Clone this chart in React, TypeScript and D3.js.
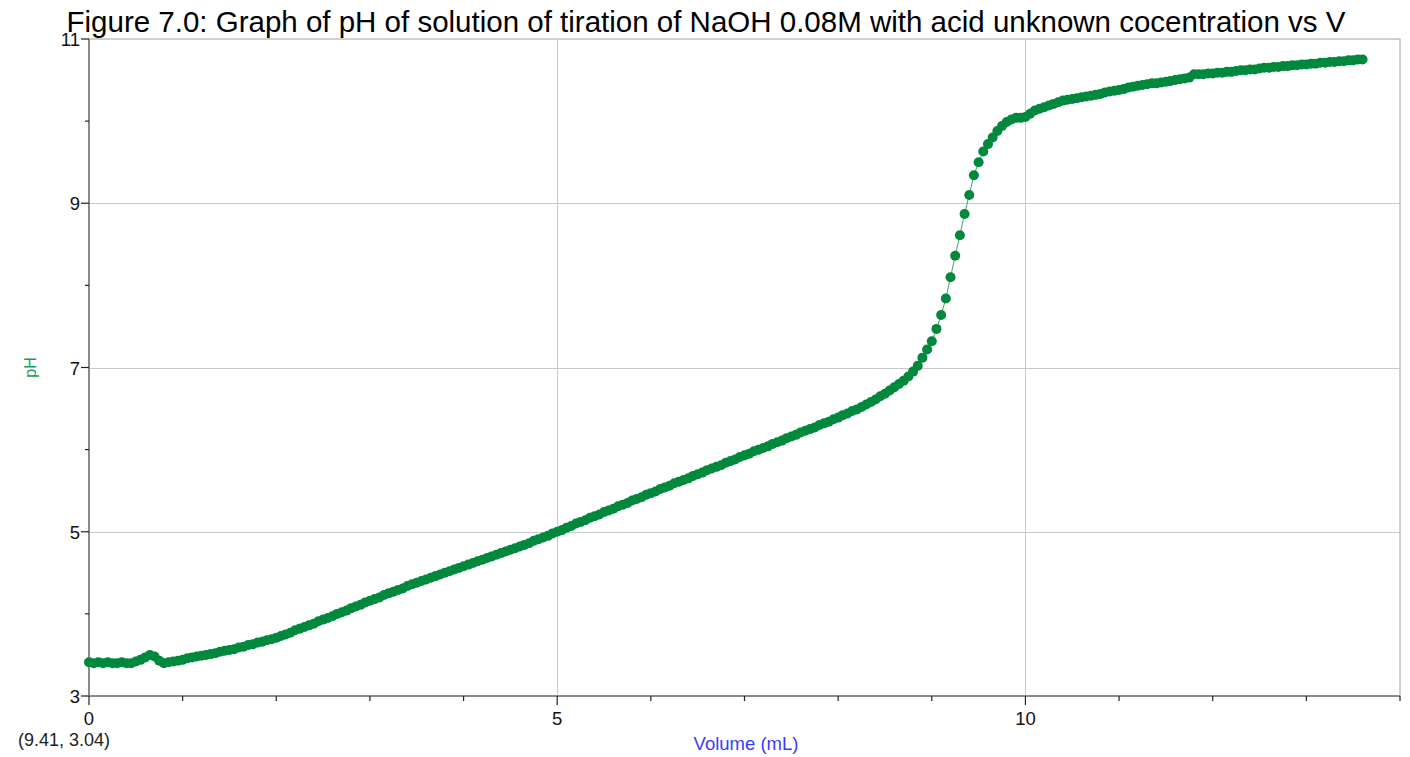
import React, { useEffect, useRef } from "react";
import * as d3 from "d3";

// Titration readings: volume of NaOH added (mL) and measured pH
const volume = [
  0.00, 0.05, 0.10, 0.15, 0.20, 0.25, 0.30, 0.35, 0.40, 0.45,
  0.50, 0.55, 0.60, 0.65, 0.70, 0.75, 0.80, 0.85, 0.90, 0.95,
  1.00, 1.05, 1.10, 1.15, 1.20, 1.25, 1.30, 1.35, 1.40, 1.45,
  1.50, 1.55, 1.60, 1.65, 1.70, 1.75, 1.80, 1.85, 1.90, 1.95,
  2.00, 2.05, 2.10, 2.15, 2.20, 2.25, 2.30, 2.35, 2.40, 2.45,
  2.50, 2.55, 2.60, 2.65, 2.70, 2.75, 2.80, 2.85, 2.90, 2.95,
  3.00, 3.05, 3.10, 3.15, 3.20, 3.25, 3.30, 3.35, 3.40, 3.45,
  3.50, 3.55, 3.60, 3.65, 3.70, 3.75, 3.80, 3.85, 3.90, 3.95,
  4.00, 4.05, 4.10, 4.15, 4.20, 4.25, 4.30, 4.35, 4.40, 4.45,
  4.50, 4.55, 4.60, 4.65, 4.70, 4.75, 4.80, 4.85, 4.90, 4.95,
  5.00, 5.05, 5.10, 5.15, 5.20, 5.25, 5.30, 5.35, 5.40, 5.45,
  5.50, 5.55, 5.60, 5.65, 5.70, 5.75, 5.80, 5.85, 5.90, 5.95,
  6.00, 6.05, 6.10, 6.15, 6.20, 6.25, 6.30, 6.35, 6.40, 6.45,
  6.50, 6.55, 6.60, 6.65, 6.70, 6.75, 6.80, 6.85, 6.90, 6.95,
  7.00, 7.05, 7.10, 7.15, 7.20, 7.25, 7.30, 7.35, 7.40, 7.45,
  7.50, 7.55, 7.60, 7.65, 7.70, 7.75, 7.80, 7.85, 7.90, 7.95,
  8.00, 8.05, 8.10, 8.15, 8.20, 8.25, 8.30, 8.35, 8.40, 8.45,
  8.50, 8.55, 8.60, 8.65, 8.70, 8.75, 8.80, 8.85, 8.90, 8.95,
  9.00, 9.05, 9.10, 9.15, 9.20, 9.25, 9.30, 9.35, 9.40, 9.45,
  9.50, 9.55, 9.60, 9.65, 9.70, 9.75, 9.80, 9.85, 9.90, 9.95,
  10.00, 10.05, 10.10, 10.15, 10.20, 10.25, 10.30, 10.35, 10.40, 10.45,
  10.50, 10.55, 10.60, 10.65, 10.70, 10.75, 10.80, 10.85, 10.90, 10.95,
  11.00, 11.05, 11.10, 11.15, 11.20, 11.25, 11.30, 11.35, 11.40, 11.45,
  11.50, 11.55, 11.60, 11.65, 11.70, 11.75, 11.80, 11.85, 11.90, 11.95,
  12.00, 12.05, 12.10, 12.15, 12.20, 12.25, 12.30, 12.35, 12.40, 12.45,
  12.50, 12.55, 12.60, 12.65, 12.70, 12.75, 12.80, 12.85, 12.90, 12.95,
  13.00, 13.05, 13.10, 13.15, 13.20, 13.25, 13.30, 13.35, 13.40, 13.45,
  13.50, 13.55, 13.60,
];

const pH = [
  3.41, 3.40, 3.41, 3.40, 3.41, 3.40, 3.40, 3.41, 3.40, 3.40,
  3.42, 3.44, 3.47, 3.50, 3.48, 3.43, 3.40, 3.41, 3.42, 3.43,
  3.44, 3.46, 3.47, 3.48, 3.49, 3.50, 3.51, 3.52, 3.54, 3.55,
  3.56, 3.57, 3.59, 3.60, 3.62, 3.63, 3.65, 3.66, 3.68, 3.69,
  3.71, 3.73, 3.75, 3.77, 3.80, 3.82, 3.84, 3.86, 3.88, 3.91,
  3.93, 3.95, 3.97, 4.00, 4.02, 4.04, 4.07, 4.09, 4.11, 4.14,
  4.16, 4.18, 4.20, 4.23, 4.25, 4.27, 4.29, 4.31, 4.34, 4.36,
  4.38, 4.40, 4.42, 4.44, 4.46, 4.48, 4.50, 4.52, 4.54, 4.56,
  4.58, 4.60, 4.62, 4.64, 4.66, 4.68, 4.70, 4.72, 4.74, 4.76,
  4.78, 4.80, 4.82, 4.84, 4.86, 4.89, 4.91, 4.93, 4.95, 4.98,
  5.00, 5.02, 5.05, 5.07, 5.10, 5.12, 5.14, 5.17, 5.19, 5.21,
  5.24, 5.26, 5.28, 5.31, 5.33, 5.35, 5.38, 5.40, 5.42, 5.45,
  5.47, 5.49, 5.52, 5.54, 5.56, 5.59, 5.61, 5.63, 5.65, 5.68,
  5.70, 5.72, 5.75, 5.77, 5.79, 5.81, 5.84, 5.86, 5.88, 5.91,
  5.93, 5.95, 5.98, 6.00, 6.02, 6.04, 6.07, 6.09, 6.11, 6.14,
  6.16, 6.18, 6.21, 6.23, 6.25, 6.27, 6.30, 6.32, 6.34, 6.37,
  6.39, 6.42, 6.44, 6.47, 6.49, 6.52, 6.55, 6.58, 6.61, 6.65,
  6.68, 6.72, 6.76, 6.80, 6.84, 6.89, 6.95, 7.02, 7.12, 7.22,
  7.32, 7.47, 7.64, 7.84, 8.10, 8.36, 8.61, 8.87, 9.10, 9.34,
  9.50, 9.63, 9.72, 9.80, 9.88, 9.94, 9.99, 10.02, 10.04, 10.04,
  10.05, 10.09, 10.13, 10.15, 10.17, 10.19, 10.21, 10.23, 10.25, 10.26,
  10.27, 10.28, 10.29, 10.30, 10.31, 10.32, 10.33, 10.35, 10.36, 10.37,
  10.38, 10.39, 10.41, 10.42, 10.43, 10.44, 10.45, 10.46, 10.46, 10.47,
  10.48, 10.49, 10.50, 10.51, 10.52, 10.53, 10.57, 10.57, 10.57, 10.58,
  10.58, 10.59, 10.59, 10.60, 10.60, 10.61, 10.62, 10.62, 10.63, 10.63,
  10.64, 10.65, 10.65, 10.66, 10.66, 10.67, 10.67, 10.68, 10.68, 10.69,
  10.69, 10.70, 10.70, 10.71, 10.71, 10.72, 10.72, 10.73, 10.73, 10.74,
  10.74, 10.75, 10.75,
];

const xMajorTicks = [0, 5, 10];
const xMinorTicks = [1, 2, 3, 4, 6, 7, 8, 9, 11, 12, 13, 14];
const yMajorTicks = [3, 5, 7, 9, 11];
const yMinorTicks = [4, 6, 8, 10];

const titleText =
  "Figure 7.0: Graph of pH of solution of tiration of NaOH 0.08M with acid unknown cocentration vs V";
const xLabel = "Volume (mL)";
const yLabel = "pH";
const cursorReadout = "(9.41, 3.04)";

const W = 1410;
const H = 757;
const margin = { left: 89, right: 10, top: 39, bottom: 61 };
const green = "#00883d";

export default function App() {
  const ref = useRef<SVGSVGElement | null>(null);

  useEffect(() => {
    const svg = d3.select(ref.current);
    svg.selectAll("*").remove();

    const x = d3.scaleLinear().domain([0, 14]).range([margin.left, W - margin.right]);
    const y = d3.scaleLinear().domain([3, 11]).range([H - margin.bottom, margin.top]);
    const font = "'Liberation Sans', Arial, sans-serif";

    // plot frame
    svg
      .append("rect")
      .attr("x", x(0))
      .attr("y", y(11))
      .attr("width", x(14) - x(0))
      .attr("height", y(3) - y(11))
      .attr("fill", "#fff")
      .attr("stroke", "#a0a0a0")
      .attr("stroke-width", 1);

    // grid
    const grid = svg.append("g").attr("stroke", "#c8c8c8").attr("stroke-width", 1);
    xMajorTicks
      .filter((t) => t > 0)
      .forEach((t) => {
        grid
          .append("line")
          .attr("x1", Math.round(x(t)) + 0.5)
          .attr("x2", Math.round(x(t)) + 0.5)
          .attr("y1", y(11))
          .attr("y2", y(3));
      });
    yMajorTicks
      .filter((t) => t > 3 && t < 11)
      .forEach((t) => {
        grid
          .append("line")
          .attr("x1", x(0))
          .attr("x2", x(14))
          .attr("y1", Math.round(y(t)) + 0.5)
          .attr("y2", Math.round(y(t)) + 0.5);
      });

    // axes lines
    svg
      .append("line")
      .attr("x1", x(0))
      .attr("x2", x(0))
      .attr("y1", y(11))
      .attr("y2", y(3))
      .attr("stroke", "#8a8a8a")
      .attr("stroke-width", 2);
    svg
      .append("line")
      .attr("x1", x(0))
      .attr("x2", x(14))
      .attr("y1", y(3))
      .attr("y2", y(3))
      .attr("stroke", "#8a8a8a")
      .attr("stroke-width", 2);

    // ticks
    const tk = svg.append("g").attr("stroke", "#222").attr("stroke-width", 1.2);
    xMajorTicks.forEach((t) => {
      tk.append("line").attr("x1", x(t)).attr("x2", x(t)).attr("y1", y(3)).attr("y2", y(3) + 9);
    });
    xMinorTicks.forEach((t) => {
      tk.append("line").attr("x1", x(t)).attr("x2", x(t)).attr("y1", y(3)).attr("y2", y(3) + 5);
    });
    yMajorTicks.forEach((t) => {
      tk.append("line").attr("x1", x(0) - 8).attr("x2", x(0)).attr("y1", y(t)).attr("y2", y(t));
    });
    yMinorTicks.forEach((t) => {
      tk.append("line").attr("x1", x(0) - 4).attr("x2", x(0)).attr("y1", y(t)).attr("y2", y(t));
    });

    // tick labels
    svg
      .append("g")
      .selectAll("text")
      .data(xMajorTicks)
      .join("text")
      .attr("x", (d) => x(d))
      .attr("y", y(3) + 29)
      .attr("text-anchor", "middle")
      .attr("font-family", font)
      .attr("font-size", 18.5)
      .attr("fill", "#111")
      .text((d) => String(d));
    svg
      .append("g")
      .selectAll("text")
      .data(yMajorTicks)
      .join("text")
      .attr("x", x(0) - 9)
      .attr("y", (d) => y(d) + 7)
      .attr("text-anchor", "end")
      .attr("font-family", font)
      .attr("font-size", 18.5)
      .attr("fill", "#111")
      .text((d) => String(d));

    // series: thin connecting line + markers
    const pts = volume.map((v, i) => [v, pH[i]] as [number, number]);
    const line = d3
      .line<[number, number]>()
      .x((d) => x(d[0]))
      .y((d) => y(d[1]));
    svg
      .append("path")
      .attr("d", line(pts))
      .attr("fill", "none")
      .attr("stroke", "#3fa56c")
      .attr("stroke-width", 1);
    svg
      .append("g")
      .selectAll("circle")
      .data(pts)
      .join("circle")
      .attr("cx", (d) => x(d[0]))
      .attr("cy", (d) => y(d[1]))
      .attr("r", 5)
      .attr("fill", green);

    // title
    svg
      .append("text")
      .attr("x", 706)
      .attr("y", 32)
      .attr("text-anchor", "middle")
      .attr("font-family", font)
      .attr("font-size", 29.5)
      .attr("fill", "#000")
      .text(titleText);

    // axis titles
    svg
      .append("text")
      .attr("x", 746)
      .attr("y", 750)
      .attr("text-anchor", "middle")
      .attr("font-family", font)
      .attr("font-size", 18.5)
      .attr("fill", "#3a3aff")
      .text(xLabel);
    svg
      .append("text")
      .attr("transform", `translate(36, ${y(7)}) rotate(-90)`)
      .attr("text-anchor", "middle")
      .attr("font-family", font)
      .attr("font-size", 16)
      .attr("fill", "#1a9a5a")
      .text(yLabel);

    // cursor readout
    svg
      .append("text")
      .attr("x", 18)
      .attr("y", 746)
      .attr("font-family", font)
      .attr("font-size", 18)
      .attr("fill", "#222")
      .text(cursorReadout);
  }, []);

  return (
    <svg
      ref={ref}
      width={W}
      height={H}
      style={{ position: "absolute", left: 0, top: 0, background: "#fff" }}
    />
  );
}
